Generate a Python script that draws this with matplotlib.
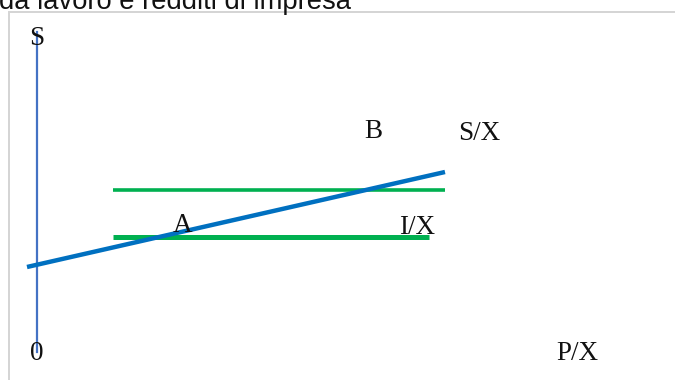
import matplotlib.pyplot as plt
from matplotlib.patches import Rectangle

# Savings line S/X and two investment levels I/X (diagram units)
savings_x = [-0.25, 10.2]
savings_y = [2.125, 4.5]
invest_high_x = [1.9, 10.2]
invest_high_y = [4.05, 4.05]
invest_low_x = [1.9, 9.8]
invest_low_y = [2.875, 2.875]
axis_top = 8.0

labels = ["S", "0", "P/X", "A", "B", "S/X", "I/X"]
label_x = [0.0, 0.0, 13.5, 3.65, 8.4, 11.05, 9.5]
label_y = [7.83, -0.05, -0.05, 3.15, 5.5, 5.45, 3.1]

W, H = 675, 380
fig = plt.figure(figsize=(W / 100, H / 100), dpi=100)
ax = fig.add_axes([0, 0, 1, 1])
# 40 px per unit, origin at pixel (37, 352)
ax.set_xlim(-37 / 40, (W - 37) / 40)
ax.set_ylim((352 - H) / 40, 352 / 40)
ax.axis("off")

# frame of the embedded chart, running off the page edges
fig.patches.append(Rectangle((8.5 / W, -0.1), 1.2, (H - 11.5) / H + 0.1,
                             transform=fig.transFigure, fill=False,
                             edgecolor="#d4d4d4", linewidth=1.4))

for text, x, y in zip(labels, label_x, label_y):
    ax.text(x, y, text, ha="center", va="center", fontsize=19.5,
            family="Liberation Serif", color="#111111")

ax.plot([0, 0], [0, axis_top], color="#4472c4", linewidth=1.6)
ax.plot(invest_high_x, invest_high_y, color="#00b050", linewidth=2.6,
        solid_capstyle="butt")
ax.plot(invest_low_x, invest_low_y, color="#00b050", linewidth=3.6,
        solid_capstyle="butt")
ax.plot(savings_x, savings_y, color="#0070c0", linewidth=3.2,
        solid_capstyle="butt")

fig.text(-1 / W, 1 - 9 / H, "da lavoro e redditi di impresa", ha="left",
         va="baseline", fontsize=19.7, family="Liberation Sans", color="#111111")

fig.savefig("out.png", dpi=100)
